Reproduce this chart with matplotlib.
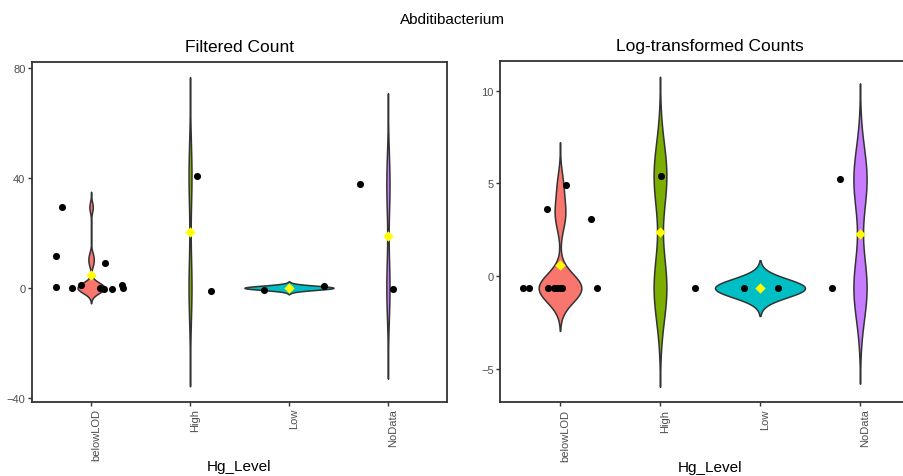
import numpy as np
import matplotlib.pyplot as plt

plt.rcParams['font.family'] = ['Liberation Sans', 'DejaVu Sans']

groups = ["belowLOD", "High", "Low", "NoData"]
colors = ["#F8766D", "#7CAE00", "#00BFC4", "#C77CFF"]

# filtered counts per Hg level, with the jitter used for the dots
count_vals = [
    [0, 0, 0, 0, 0, 0, 0, 0, 9.0, 11.5, 29.3],
    [0, 40.8],
    [0, 0],
    [0, 37.7],
]
count_dx = [
    [-0.35, -0.19, -0.10, 0.09, 0.13, 0.21, 0.31, 0.32, 0.14, -0.35, -0.29],
    [0.21, 0.07],
    [-0.25, 0.35],
    [0.05, -0.28],
]
count_dy = [
    [0.25, -0.1, 1.1, -0.1, -0.4, -0.6, 1.1, 0.1, 0, 0, 0],
    [-1.2, 0],
    [-0.85, 0.5],
    [-0.4, 0],
]

# log-transformed counts
log_vals = [
    [-0.64, -0.64, -0.64, -0.64, -0.64, -0.64, -0.64, -0.64, 3.61, 4.92, 3.06],
    [-0.64, 5.43],
    [-0.64, -0.64],
    [-0.64, 5.24],
]
log_dx = [
    [-0.37, -0.31, -0.12, -0.06, -0.03, 0.0, 0.02, 0.37, -0.13, 0.06, 0.31],
    [0.35, 0.01],
    [-0.16, 0.18],
    [-0.28, -0.20],
]


def bw_nrd0(x):
    x = np.asarray(x, float)
    hi = np.std(x, ddof=1)
    q1, q3 = np.percentile(x, [25, 75])
    lo = min(hi, (q3 - q1) / 1.34)
    if lo == 0:
        lo = hi or abs(x[0]) or 1.0
    return 0.9 * lo * len(x) ** -0.2


def density(x):
    x = np.asarray(x, float)
    bw = bw_nrd0(x)
    y = np.linspace(x.min() - 3 * bw, x.max() + 3 * bw, 512)
    d = np.exp(-0.5 * ((y[:, None] - x[None, :]) / bw) ** 2).sum(1)
    d /= len(x) * bw * np.sqrt(2 * np.pi)
    return y, d


def violin_panel(ax, vals, dx, dy, title):
    dens = [density(v) for v in vals]
    dmax = max(d.max() for _, d in dens)
    for i, (y, d) in enumerate(dens):
        pos = i + 1
        w = 0.45 * d / dmax
        ax.fill_betweenx(y, pos - w, pos + w, facecolor=colors[i],
                         edgecolor='#333333', linewidth=1.1, zorder=2)
        v = np.asarray(vals[i], float)
        ax.scatter(pos + np.asarray(dx[i]), v + np.asarray(dy[i]), s=26,
                   color='black', zorder=3, linewidths=0)
        ax.scatter([pos], [v.mean()], marker='D', s=28, color='yellow',
                   zorder=4, linewidths=0)

    lo = min(y.min() for y, _ in dens)
    hi = max(y.max() for y, _ in dens)
    pad = 0.05 * (hi - lo)
    ax.set_ylim(lo - pad, hi + pad)
    ax.set_xlim(0.4, 4.6)
    ax.set_xticks(range(1, 5))
    ax.set_xticklabels(groups, rotation=90, ha='left', va='top')
    ax.set_xlabel("Hg_Level", fontsize=11, va='center')
    ax.xaxis.set_label_coords(0.5, -64.5 / 340)
    ax.set_title(title, fontsize=12.5, pad=8)
    ax.tick_params(length=3, width=1, color='#333333', labelcolor='#4D4D4D',
                   labelsize=8, pad=1.5)
    for sp in ax.spines.values():
        sp.set_color('#333333')
        sp.set_linewidth(1.3)


fig = plt.figure(figsize=(9.04, 4.77), dpi=100)
W, H = 904, 477
ax1 = fig.add_axes([31.7 / W, (H - 402.7) / H, 415.6 / W, 340 / H])
ax2 = fig.add_axes([500 / W, (H - 403.3) / H, 420 / W, 341 / H])

violin_panel(ax1, count_vals, count_dx, count_dy, "Filtered Count")
ax1.set_yticks([-40, 0, 40, 80])

zero_dy = [[0] * len(v) for v in log_vals]
violin_panel(ax2, log_vals, log_dx, zero_dy, "Log-transformed Counts")
ax2.set_yticks([-5, 0, 5, 10])

fig.text(452 / W, 1 - 20 / H, "Abditibacterium", ha='center', va='center',
         fontsize=11)

fig.savefig("out.png", dpi=100)
